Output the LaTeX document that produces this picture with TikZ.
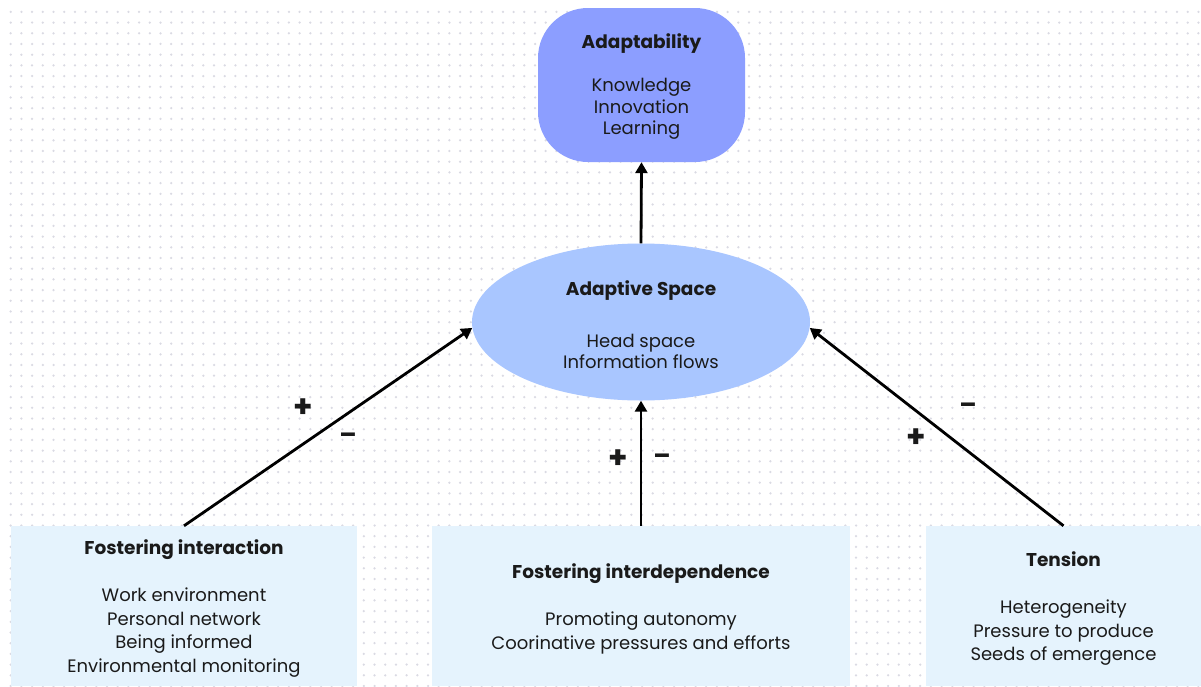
\documentclass[tikz,border=0pt]{standalone}
\usepackage{fontspec}
\setmainfont{Poppins}
\usetikzlibrary{shapes.geometric,arrows.meta,patterns}
\definecolor{topc}{HTML}{8C9EFF}
\definecolor{ellc}{HTML}{A9C6FF}
\definecolor{botc}{HTML}{E5F3FD}
\definecolor{dotc}{HTML}{DADAE3}
\definecolor{txt}{HTML}{1A1A1A}
\pgfdeclarepatternformonly{mydots}{\pgfqpoint{-2pt}{-2pt}}{\pgfqpoint{8.7pt}{8.7pt}}{\pgfqpoint{10.7pt}{10.7pt}}{%
  \pgfpathcircle{\pgfqpoint{0pt}{0pt}}{1.25pt}\pgfusepath{fill}}
\newcommand{\ttl}[1]{{\fontsize{18.5}{23.5}\selectfont\bfseries #1}}
\tikzset{
  boxtext/.style={text=txt, align=center, font=\fontsize{18}{23.5}\selectfont},
  topbox/.style={boxtext, fill=topc, rounded corners=50pt, minimum width=207pt, minimum height=154pt, inner sep=0pt, font=\fontsize{18}{21.5}\selectfont},
  ellbox/.style={boxtext, ellipse, fill=ellc, minimum width=338pt, minimum height=157pt, inner sep=0pt, font=\fontsize{18}{21}\selectfont},
  botbox/.style={boxtext, fill=botc, minimum height=160pt, inner sep=0pt},
  arr/.style={line width=2.8pt, -{Triangle[length=11pt,width=12pt]}},
  sign/.style={text=txt, font=\fontsize{31}{31}\selectfont\bfseries, inner sep=0pt},
  msign/.style={text=txt, font=\fontsize{25}{25}\selectfont\bfseries, inner sep=0pt}
}
\begin{document}
\begin{tikzpicture}[x=1pt,y=-1pt]
\useasboundingbox (0,0) rectangle (1201,686);
\fill[white] (0,0) rectangle (1201,686);
\fill[pattern=mydots, pattern color=dotc] (8,5) rectangle (1201,686);
\node[topbox] (adapt) at (641.5,85) {};
\node[boxtext, font=\fontsize{18}{21.5}\selectfont] (adapttxt) at (641.5,87) {\ttl{Adaptability}\\[21.5pt]Knowledge\\Innovation\\Learning};
\node[ellbox] (space) at (641,322) {};
\node[boxtext, font=\fontsize{18}{21}\selectfont] (spacetxt) at (641,324.5) {\ttl{Adaptive Space}\\[31pt]Head space\\Information flows};
\node[botbox, minimum width=346pt] (inter) at (184,606) {};
\node[boxtext] (intertxt) at (184,608.5) {\ttl{Fostering interaction}\\[24pt]Work environment\\Personal network\\Being informed\\Environmental monitoring};
\node[botbox, minimum width=418pt] (interdep) at (641,606) {};
\node[boxtext] (interdeptxt) at (641,608.5) {\ttl{Fostering interdependence}\\[24pt]Promoting autonomy\\Coorinative pressures and efforts};
\node[botbox, minimum width=276pt] (tension) at (1063.5,606) {};
\node[boxtext] (tensiontxt) at (1063.5,608.5) {\ttl{Tension}\\[24pt]Heterogeneity\\Pressure to produce\\Seeds of emergence};
\draw[arr] (space.north) -- (adapt.south);
\draw[arr] (inter.north) -- (space.182);
\draw[arr] (interdep.north) -- (space.south);
\draw[arr] (tension.north) -- (space.-2);
\node[sign] (p1) at (303,408) {+};
\node[msign] (m1) at (348,438) {–};
\node[sign] (p2) at (618,459) {+};
\node[msign] (m2) at (662,459) {–};
\node[msign] (m3) at (968,408) {–};
\node[sign] (p3) at (916,438) {+};
\end{tikzpicture}
\end{document}
